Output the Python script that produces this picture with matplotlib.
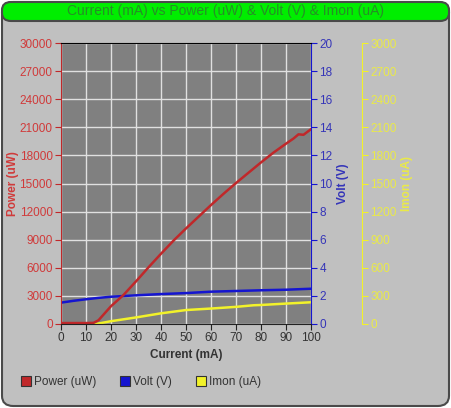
import matplotlib
matplotlib.use("Agg")
import matplotlib.pyplot as plt
import matplotlib.patches as mpatches
from matplotlib.lines import Line2D

plt.rcParams["font.family"] = ["Liberation Sans", "DejaVu Sans"]

# ── Data ──────────────────────────────────────────────────────────────────────
power_x = [0, 5, 10, 13, 15, 17, 20, 25, 30, 35, 40, 45, 50, 55, 60, 65, 70,
           75, 80, 85, 90, 93, 95, 97, 100]
power_uw = [100, 100, 100, 120, 400, 1000, 1900, 3100, 4550, 6050, 7500, 8900,
            10200, 11450, 12700, 13900, 15050, 16150, 17250, 18300, 19250,
            19800, 20250, 20200, 20800]

volt_x = [0, 5, 10, 15, 20, 30, 40, 50, 60, 70, 80, 90, 100]
volt_v = [1.52, 1.65, 1.76, 1.86, 1.94, 2.04, 2.13, 2.20, 2.30, 2.35, 2.40,
          2.44, 2.51]

imon_x = [0, 14, 20, 30, 40, 50, 60, 70, 77, 80, 90, 100]
imon_ua = [0, 0, 30, 70, 114, 149, 165, 183, 200, 203, 218, 232]

x_ticks = list(range(0, 101, 10))
power_ticks = list(range(0, 30001, 3000))
volt_ticks = list(range(0, 21, 2))
imon_ticks = list(range(0, 3001, 300))

RED, RED_TXT = "#c0282a", "#d03a3a"
BLUE, BLUE_TXT = "#1515d0", "#3535b8"
YEL, YEL_TXT = "#f2f22a", "#eaea48"
GREEN_TXT = "#268e26"

W, H = 451, 408
fig = plt.figure(figsize=(W / 100, H / 100), dpi=100)
fig.patch.set_facecolor("white")

# ── Frame: rounded grey panel + green title bar ───────────────────────────────
panel = mpatches.FancyBboxPatch(
    (2 / W, 2 / H), 447 / W, 404 / H,
    boxstyle="round,pad=0,rounding_size=0.025",
    transform=fig.transFigure, facecolor="#c0c0c0", edgecolor="#4a4a4a",
    lw=1.5, zorder=-2)
fig.patches.append(panel)
bar = mpatches.FancyBboxPatch(
    (2 / W, (H - 21) / H), 447 / W, 19 / H,
    boxstyle="round,pad=0,rounding_size=0.02",
    transform=fig.transFigure, facecolor="#00ee00", edgecolor="#4a4a4a",
    lw=1.5, zorder=-1)
fig.patches.append(bar)
fig.text(0.5, (H - 11.5) / H, "Current (mA) vs Power (uW) & Volt (V) & Imon (uA)",
         ha="center", va="center", fontsize=10, color=GREEN_TXT)

# ── Axes ──────────────────────────────────────────────────────────────────────
L, R, T, B = 61, 311, 43, 324
ax = fig.add_axes([L / W, (H - B) / H, (R - L) / W, (B - T) / H])
ax_v = ax.twinx()
ax_i = ax.twinx()
ax_i.spines["right"].set_position(("axes", 1 + 51 / (R - L)))

# stacking: Imon axes carries background + grid, power line ends on top
ax_i.set_zorder(0)
ax_v.set_zorder(1)
ax.set_zorder(2)
ax.patch.set_visible(False)
ax_v.patch.set_visible(False)
ax_i.patch.set_visible(True)
ax_i.set_facecolor("#808080")

ax.set_xlim(0, 100)
ax.set_ylim(0, 30000)
ax_v.set_ylim(0, 20)
ax_i.set_ylim(0, 3000)
ax.set_xticks(x_ticks)
ax.set_yticks(power_ticks)
ax_v.set_yticks(volt_ticks)
ax_i.set_yticks(imon_ticks)

ax_i.xaxis.set_visible(True)
ax_i.tick_params(axis="x", bottom=False, labelbottom=False, top=False,
                 labeltop=False)
ax_i.grid(True, color="#e0e0e0", lw=1.0)
ax_i.set_axisbelow(True)

for a in (ax, ax_v, ax_i):
    for s in a.spines.values():
        s.set_visible(False)
ax.spines["top"].set_visible(True)
ax.spines["top"].set_color("black")
ax.spines["bottom"].set_visible(True)
ax.spines["bottom"].set_color("#222222")
ax.spines["left"].set_visible(True)
ax.spines["left"].set_color(RED)
ax_v.spines["right"].set_visible(True)
ax_v.spines["right"].set_color(BLUE)
ax_i.spines["right"].set_visible(True)
ax_i.spines["right"].set_color(YEL)

fs = 8.5
ax.tick_params(axis="x", colors="#222222", labelcolor="#333333", length=4,
               labelsize=fs, pad=2)
ax.tick_params(axis="y", colors=RED, labelcolor=RED_TXT, length=4,
               labelsize=fs, pad=2)
ax_v.tick_params(axis="y", colors=BLUE, labelcolor=BLUE_TXT, length=4,
                 labelsize=fs, pad=2)
ax_i.tick_params(axis="y", colors=YEL, labelcolor=YEL_TXT, length=4,
                 labelsize=fs, pad=2)

ax.set_xlabel("Current (mA)", fontsize=8.5, fontweight="bold", color="#333333")
ax.xaxis.set_label_coords(0.5, -(349 - B) / (B - T))
ax.set_ylabel("Power (uW)", fontsize=8.5, fontweight="bold", color=RED_TXT)
ax.yaxis.set_label_coords(-(L - 19) / (R - L), 0.5)
ax_v.set_ylabel("Volt (V)", fontsize=8.5, fontweight="bold", color=BLUE_TXT)
ax_v.yaxis.set_label_coords((337 - L) / (R - L), 0.5)
ax_i.set_ylabel("Imon (uA)", fontsize=8.5, fontweight="bold", color=YEL_TXT)
ax_i.yaxis.set_label_coords((401 - L) / (R - L), 0.5)

# ── Series ────────────────────────────────────────────────────────────────────
ax.plot(power_x, power_uw, color=RED, lw=1.8)
ax_v.plot(volt_x, volt_v, color=BLUE, lw=1.8)
ax_i.plot(imon_x, imon_ua, color=YEL, lw=1.8)

# ── Legend ────────────────────────────────────────────────────────────────────
handles = [Line2D([], [], marker="s", ls="none", ms=7, mfc=c, mec="#333333", mew=0.8)
           for c in (RED, BLUE, YEL)]
fig.legend(handles, ["Power (uW)", "Volt (V)", "Imon (uA)"],
           loc="center left", bbox_to_anchor=(9 / W, 1 - 382 / H),
           ncol=3, frameon=False, fontsize=8.5, labelcolor="#333333",
           handletextpad=0.2, columnspacing=1.95, handlelength=1.0)

fig.savefig("out.png", dpi=100)
